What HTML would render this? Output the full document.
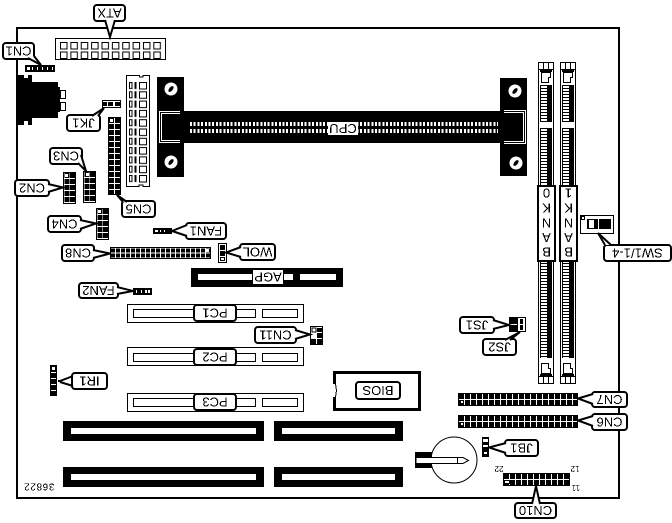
<!DOCTYPE html>
<html><head><meta charset="utf-8">
<style>
html,body{margin:0;padding:0;background:#fff;width:672px;height:523px;overflow:hidden}
svg{display:block}
text{font-family:"Liberation Sans",sans-serif;font-size:13px;text-anchor:middle;fill:#000}
.l{fill:#fff;stroke:#000;stroke-width:2}
.o{fill:#fff;stroke:#000;stroke-width:1}
.p{fill:#fff;stroke:#000;stroke-width:2;stroke-linejoin:miter}
.k{stroke:#000;fill:none}
.w{stroke:#fff;fill:none}
</style></head><body>
<svg width="672" height="523" viewBox="0 0 672 523" xmlns="http://www.w3.org/2000/svg">
<defs>
<pattern id="atx" patternUnits="userSpaceOnUse" x="60" y="42" width="10.37" height="9.5"><rect x=".5" y=".5" width="6.5" height="6.5" fill="#fff" stroke="#000"/></pattern>
<pattern id="sq" patternUnits="userSpaceOnUse" x="139" y="82" width="9" height="9.3"><rect x=".5" y=".5" width="7" height="6.5" fill="#fff" stroke="#000"/></pattern>
<pattern id="dt" patternUnits="userSpaceOnUse" x="129" y="82" width="9" height="9.3"><rect x=".5" y=".5" width="2.5" height="6" fill="#fff" stroke="#000"/><rect x="5.5" y="0" width="2" height="7" fill="#000"/></pattern>
<filter id="bw" x="0" y="0" width="100%" height="100%" color-interpolation-filters="sRGB"><feComponentTransfer><feFuncA type="discrete" tableValues="0 1"/></feComponentTransfer></filter>
</defs>

<!-- board outline -->
<path d="M17 28H619V498H17Z" class="k" stroke-width="2" shape-rendering="crispEdges"/>

<g shape-rendering="crispEdges">
<!-- ATX -->
<rect x="55.5" y="38.5" width="110" height="21" class="o"/>
<rect x="60" y="42" width="103" height="17" fill="url(#atx)"/>

<!-- CN1 header -->
<rect x="25" y="65" width="30" height="7" fill="#000"/>
<rect x="27" y="67" width="3" height="3" fill="#fff"/>
<line x1="32" y1="68.5" x2="54" y2="68.5" stroke="#fff" stroke-width="3" stroke-dasharray="1 4"/>

<!-- rear ports -->
<path d="M17 75H24V78H28V75H32V82H58V87H60V112H58V118H32V125H28V121H24V125H17Z" fill="#000"/>
<rect x="60.5" y="90.5" width="5" height="8" class="o"/>
<rect x="60.5" y="102.5" width="5" height="8" class="o"/>

<!-- JK1 -->
<rect x="102.5" y="100.5" width="18" height="7" class="o"/>
<rect x="108" y="102" width="5" height="4" fill="#000"/><rect x="115" y="102" width="5" height="4" fill="#000"/>
<rect x="103" y="102" width="4" height="4" fill="#000"/>

<!-- CN5 -->
<rect x="108.5" y="117.5" width="12" height="77" class="o"/>
<line x1="111.5" y1="118" x2="111.5" y2="194" stroke="#000" stroke-width="5" stroke-dasharray="5 1"/>
<line x1="117.5" y1="118" x2="117.5" y2="194" stroke="#000" stroke-width="5" stroke-dasharray="5 1"/>
<rect x="110" y="119" width="3" height="3" fill="#fff"/>

<!-- long socket -->
<path d="M126.500 75.500H139.500V77H143V75.500H149.500V186.500H143V185H139V186.500H126.500Z" class="o"/>
<rect x="129" y="82" width="9" height="102" fill="url(#dt)"/>
<rect x="139" y="82" width="8" height="102" fill="url(#sq)"/>

<!-- CN3 / CN2 / CN4 -->
<rect x="83.500" y="171.500" width="12" height="31" class="o"/>
<line x1="87" y1="172" x2="87" y2="202" stroke="#000" stroke-width="5" stroke-dasharray="5 1"/>
<line x1="92.500" y1="172" x2="92.500" y2="202" stroke="#000" stroke-width="5" stroke-dasharray="5 1"/>
<rect x="86" y="173" width="3" height="3" fill="#fff"/>
<rect x="63.500" y="172.500" width="12" height="31" class="o"/>
<line x1="67" y1="173" x2="67" y2="203" stroke="#000" stroke-width="5" stroke-dasharray="5 1"/>
<line x1="72.500" y1="173" x2="72.500" y2="203" stroke="#000" stroke-width="5" stroke-dasharray="5 1"/>
<rect x="65" y="174" width="3" height="3" fill="#fff"/>
<rect x="96.500" y="208.500" width="12" height="31" class="o"/>
<line x1="100" y1="209" x2="100" y2="239" stroke="#000" stroke-width="5" stroke-dasharray="5 1"/>
<line x1="105.500" y1="209" x2="105.500" y2="239" stroke="#000" stroke-width="5" stroke-dasharray="5 1"/>
<rect x="98" y="210" width="3" height="3" fill="#fff"/>

<!-- CN8 -->
<rect x="110.500" y="247.500" width="100" height="11" class="o"/>
<line x1="111" y1="250.500" x2="210" y2="250.500" stroke="#000" stroke-width="4" stroke-dasharray="4 1"/>
<line x1="111" y1="255.500" x2="210" y2="255.500" stroke="#000" stroke-width="4" stroke-dasharray="4 1"/>
<rect x="206" y="249" width="3" height="3" fill="#fff"/>

<!-- FAN1 -->
<rect x="153" y="228" width="19" height="6" fill="#000"/>
<rect x="155" y="230" width="3" height="2" fill="#fff"/>
<rect x="160" y="230" width="1" height="2" fill="#fff"/><rect x="164" y="230" width="1" height="2" fill="#fff"/>

<!-- WOL -->
<rect x="218.500" y="243.500" width="8" height="19" class="o"/>
<rect x="220" y="245" width="5" height="5" fill="#000"/>
<rect x="220" y="251" width="5" height="5" fill="#000"/>
<rect x="220.500" y="257.500" width="4" height="3" class="o"/>

<!-- AGP -->
<rect x="191" y="268" width="152" height="19" fill="#000"/>
<rect x="198" y="274" width="54" height="6" fill="#fff"/>
<rect x="253" y="270" width="30" height="14" fill="#fff"/>
<rect x="284" y="274" width="9" height="6" fill="#fff"/>
<rect x="300" y="274" width="36" height="6" fill="#fff"/>

<!-- FAN2 -->
<rect x="133" y="288" width="19" height="7" fill="#000"/>
<rect x="145" y="290" width="2" height="3" fill="#fff"/><rect x="148" y="290" width="2" height="3" fill="#fff"/>
<rect x="136" y="290" width="1" height="3" fill="#fff"/><rect x="141" y="290" width="1" height="3" fill="#fff"/>

<!-- PCI slots -->
<rect x="127.500" y="304.500" width="176" height="18" class="o"/>
<rect x="133.500" y="309.500" width="63" height="8" class="o"/>
<rect x="236.500" y="309.500" width="19" height="8" class="o"/>
<rect x="262.500" y="309.500" width="35" height="8" class="o"/>
<rect x="127.500" y="347.500" width="176" height="18" class="o"/>
<rect x="133.500" y="353.500" width="63" height="8" class="o"/>
<rect x="236.500" y="353.500" width="19" height="8" class="o"/>
<rect x="262.500" y="353.500" width="35" height="8" class="o"/>
<rect x="127.500" y="393.500" width="176" height="18" class="o"/>
<rect x="133.500" y="398.500" width="63" height="8" class="o"/>
<rect x="236.500" y="398.500" width="19" height="8" class="o"/>
<rect x="262.500" y="398.500" width="35" height="8" class="o"/>

<!-- CN11 -->
<rect x="310.500" y="326.500" width="12" height="18" class="o"/>
<rect x="312" y="328" width="4" height="4" fill="#fff" stroke="#000"/>
<rect x="317" y="328" width="5" height="4" fill="#000"/>
<rect x="317" y="333" width="5" height="5" fill="#000"/>
<rect x="311" y="339" width="5" height="5" fill="#000"/>
<rect x="317" y="339" width="5" height="5" fill="#000"/>

<!-- JS1/JS2 -->
<rect x="509" y="317" width="8" height="15" fill="#000"/>
<rect x="509" y="324" width="8" height="1" fill="#fff"/>
<rect x="517.500" y="317.500" width="8" height="14" class="o"/>
<rect x="520" y="319" width="3" height="5" fill="#000"/>
<rect x="520" y="325" width="3" height="5" fill="#000"/>

<!-- IR1 -->
<rect x="50" y="365" width="7" height="31" fill="#000"/>
<rect x="51.500" y="366.500" width="4" height="4" class="o"/>
<line x1="53.500" y1="372" x2="53.500" y2="396" stroke="#fff" stroke-width="5" stroke-dasharray="1 5"/>

<!-- ISA -->
<rect x="63" y="421" width="201" height="20" fill="#000"/><rect x="71" y="428" width="185" height="6" fill="#fff"/>
<rect x="274" y="421" width="129" height="20" fill="#000"/><rect x="282" y="428" width="113" height="6" fill="#fff"/>
<rect x="63" y="467" width="201" height="20" fill="#000"/><rect x="71" y="474" width="185" height="6" fill="#fff"/>
<rect x="274" y="467" width="129" height="20" fill="#000"/><rect x="282" y="474" width="113" height="6" fill="#fff"/>

<!-- BIOS -->
<rect x="334.500" y="372.500" width="85" height="37" fill="#fff" stroke="#000" stroke-width="3"/>
<rect x="333" y="384" width="3" height="13" fill="#fff"/>
<path d="M335.500 384L336.500 390.500L335.500 397" class="k"/>

<!-- CN7 CN6 -->
<rect x="458.500" y="393.500" width="119" height="12" class="o"/>
<line x1="459" y1="396.500" x2="577" y2="396.500" stroke="#000" stroke-width="5" stroke-dasharray="5 1"/>
<line x1="459" y1="402.500" x2="577" y2="402.500" stroke="#000" stroke-width="5" stroke-dasharray="5 1"/>
<rect x="460.500" y="400.500" width="3" height="3" fill="#fff" stroke="#000"/>
<rect x="458.500" y="415.500" width="119" height="12" class="o"/>
<line x1="459" y1="418.500" x2="577" y2="418.500" stroke="#000" stroke-width="5" stroke-dasharray="5 1"/>
<line x1="459" y1="424.500" x2="577" y2="424.500" stroke="#000" stroke-width="5" stroke-dasharray="5 1"/>
<rect x="460.500" y="422.500" width="3" height="3" fill="#fff" stroke="#000"/>

<!-- JB1 -->
<rect x="482" y="437" width="7" height="20" fill="#000"/>
<rect x="483" y="439" width="5" height="3" fill="#fff"/>
<rect x="483" y="445" width="5" height="2" fill="#fff"/>
<rect x="483.500" y="451.500" width="4" height="3" class="o"/>

<!-- CN10 -->
<rect x="503.500" y="473.500" width="66" height="12" class="o"/>
<line x1="504" y1="476.500" x2="569" y2="476.500" stroke="#000" stroke-width="5" stroke-dasharray="5 1"/>
<line x1="504" y1="482.500" x2="569" y2="482.500" stroke="#000" stroke-width="5" stroke-dasharray="5 1"/>
<rect x="504.500" y="480.500" width="5" height="3" fill="#fff" stroke="#000"/>

<!-- CPU slot -->
<rect x="157" y="77" width="27" height="100" fill="#000"/>
<rect x="500" y="78" width="27" height="98" fill="#000"/>
<rect x="184" y="111" width="316" height="32" fill="#000"/>
<path d="M180 111.500H159.500V142.500H180M180 113.500H161.500V140.500H180" class="w"/>
<path d="M504 110.500H525.500V143.500H504M504 112.500H523.500V141.500H504" class="w"/>
<line x1="190" y1="124" x2="498" y2="124" stroke="#fff" stroke-width="4" stroke-dasharray="2 1.700"/>
<line x1="190" y1="131" x2="498" y2="131" stroke="#fff" stroke-width="4" stroke-dasharray="2 1.700"/>
<rect x="328" y="122" width="30" height="13" fill="#fff"/>

<!-- DIMM sockets -->
<rect x="538.500" y="62.500" width="15" height="321" class="o"/>
<rect x="560.500" y="62.500" width="15" height="321" class="o"/>
<path d="M543.500 62.500V69.500M548.500 62.500V69.500M538.500 69.500H553.500M565.500 62.500V69.500M570.500 62.500V69.500M560.500 69.500H575.500" class="k"/>
<path d="M543.500 376.500V383.500M548.500 376.500V383.500M538.500 376.500H553.500M565.500 376.500V383.500M570.500 376.500V383.500M560.500 376.500H575.500" class="k"/>
<rect x="540" y="69" width="12" height="3" fill="#000"/><rect x="562" y="69" width="12" height="3" fill="#000"/>
<rect x="540" y="374" width="12" height="3" fill="#000"/><rect x="562" y="374" width="12" height="3" fill="#000"/>
<path d="M541.500 72.500H550.500V77.500H548.500V82.500H541.500Z" class="o"/>
<path d="M563.500 72.500H572.500V77.500H570.500V82.500H563.500Z" class="o"/>
<path d="M541.500 373.500H550.500V368.500H548.500V363.500H541.500Z" class="o"/>
<path d="M563.500 373.500H572.500V368.500H570.500V363.500H563.500Z" class="o"/>
<rect x="540" y="85" width="12" height="37" fill="#000"/>
<rect x="540" y="128" width="12" height="230" fill="#000"/>
<rect x="562" y="85" width="12" height="37" fill="#000"/>
<rect x="562" y="128" width="12" height="230" fill="#000"/>
<line x1="544" y1="86" x2="544" y2="122" stroke="#fff" stroke-width="6" stroke-dasharray="2 1"/>
<line x1="544" y1="129" x2="544" y2="358" stroke="#fff" stroke-width="6" stroke-dasharray="2 1"/>
<line x1="566" y1="86" x2="566" y2="122" stroke="#fff" stroke-width="6" stroke-dasharray="2 1"/>
<line x1="566" y1="129" x2="566" y2="358" stroke="#fff" stroke-width="6" stroke-dasharray="2 1"/>
<rect x="538" y="186" width="17" height="75" class="l"/>
<rect x="560" y="186" width="17" height="75" class="l"/>

<!-- SW -->
<rect x="580.500" y="215.500" width="33" height="18" class="o"/>
<rect x="581.500" y="216.500" width="3" height="3" class="o"/>
<rect x="587" y="219" width="24" height="10" fill="#000"/>
<rect x="589" y="220" width="5" height="8" fill="#fff"/>
<rect x="598" y="219" width="1" height="10" fill="#fff"/>
</g>

<!-- screw holes -->
<circle cx="171" cy="89" r="6.500" fill="#fff"/><ellipse cx="171" cy="89" rx="3.500" ry="1.800" transform="rotate(-50 171 89)" fill="#000"/>
<circle cx="171" cy="162" r="6.500" fill="#fff"/><ellipse cx="171" cy="162" rx="3.500" ry="1.800" transform="rotate(-50 171 162)" fill="#000"/>
<circle cx="515" cy="91" r="6.500" fill="#fff"/><ellipse cx="515" cy="91" rx="3.500" ry="1.800" transform="rotate(-50 515 91)" fill="#000"/>
<circle cx="516" cy="163" r="6.500" fill="#fff"/><ellipse cx="516" cy="163" rx="3.500" ry="1.800" transform="rotate(-50 516 163)" fill="#000"/>

<!-- battery -->
<circle cx="454" cy="460" r="23" fill="#fff" stroke="#000" stroke-width="1"/>
<rect x="415" y="452" width="17" height="16" fill="#000"/>
<path d="M416 457.500H463L468.500 460.500L463 463.500H416Z" fill="#fff" stroke="#000"/>
<path d="M457.500 457.500V463.500" class="k"/>

<!-- labels -->
<rect class="l" x="94" y="5" width="31" height="16" rx="3"/>
<rect class="l" x="3" y="43" width="31" height="16" rx="3"/>
<rect class="l" x="67" y="115" width="33" height="16" rx="3"/>
<rect class="l" x="50" y="148" width="32" height="16" rx="3"/>
<rect class="l" x="15" y="180" width="34" height="16" rx="3"/>
<rect class="l" x="48" y="216" width="33" height="16" rx="3"/>
<rect class="l" x="62" y="245" width="32" height="16" rx="3"/>
<rect class="l" x="122" y="201" width="33" height="16" rx="3"/>
<rect class="l" x="186" y="223" width="40" height="16" rx="3"/>
<rect class="l" x="240" y="244" width="35" height="16" rx="3"/>
<rect class="l" x="79" y="283" width="39" height="15" rx="3"/>
<rect class="l" x="194" y="305" width="42" height="16" rx="3"/>
<rect class="l" x="194" y="349" width="42" height="16" rx="3"/>
<rect class="l" x="194" y="394" width="42" height="16" rx="3"/>
<rect class="l" x="255" y="327" width="41" height="16" rx="3"/>
<rect class="l" x="356" y="382" width="44" height="17" rx="3"/>
<rect class="l" x="460" y="317" width="34" height="16" rx="3"/>
<rect class="l" x="483" y="339" width="33" height="16" rx="3"/>
<rect class="l" x="72" y="373" width="35" height="16" rx="3"/>
<rect class="l" x="592" y="392" width="35" height="15" rx="3"/>
<rect class="l" x="592" y="414" width="35" height="16" rx="3"/>
<rect class="l" x="505" y="440" width="33" height="16" rx="3"/>
<rect class="l" x="515" y="503" width="41" height="15" rx="3"/>
<rect class="l" x="604" y="245" width="67" height="16" rx="3"/>

<!-- pointers: open wedges drawn over the label border -->
<path class="p" d="M105 20L110 37L115 20"/>
<path class="p" d="M28 58L41 65L34 56"/>
<path class="p" d="M92 116L104 108L98 116"/>
<path class="p" d="M78 163L86 171L81 155"/>
<path class="p" d="M48 184L63 187.500L48 192"/>
<path class="p" d="M80 220L96 223.500L80 229"/>
<path class="p" d="M93 250L110 253.500L93 258"/>
<path class="p" d="M123 202L117 195L127 202"/>
<path class="p" d="M187 225L172 231L187 236"/>
<path class="p" d="M241 247L226 252.500L241 257"/>
<path class="p" d="M117 287L133 291L117 294"/>
<path class="p" d="M295 330L310 334.500L295 339"/>
<path class="p" d="M493 320L509 325L493 329"/>
<path class="p" d="M505 340L520 332L510 340"/>
<path class="p" d="M58 381H60L73 376M60 382L73 386"/>
<path class="p" d="M593 394L578 398.500L593 404"/>
<path class="p" d="M593 416L578 420.500L593 426"/>
<path class="p" d="M506 443L489 447.500L506 453"/>
<path class="p" d="M532 504L536 486L540 504"/>
<path class="p" d="M605 245L598 233L611 245"/>

<!-- text -->
<g filter="url(#bw)">
<text transform="translate(109.500 13) rotate(180)" y="4.500">ATX</text>
<text transform="translate(18.500 51) rotate(180)" y="4.500">CN1</text>
<text transform="translate(83.500 123) rotate(180)" y="4.500">JK1</text>
<text transform="translate(66 156) rotate(180)" y="4.500">CN3</text>
<text transform="translate(32 188) rotate(180)" y="4.500">CN2</text>
<text transform="translate(64.500 224) rotate(180)" y="4.500">CN4</text>
<text transform="translate(78 253) rotate(180)" y="4.500">CN8</text>
<text transform="translate(138.500 209) rotate(180)" y="4.500">CN5</text>
<text transform="translate(206 231) rotate(180)" y="4.500">FAN1</text>
<text transform="translate(257.500 252) rotate(180)" y="4.500">WOL</text>
<text transform="translate(98.500 290.500) rotate(180)" y="4.500">FAN2</text>
<text transform="translate(268 277) rotate(180)" y="4.500">AGP</text>
<text transform="translate(215 313) rotate(180)" y="4.500">PC1</text>
<text transform="translate(215 357) rotate(180)" y="4.500">PC2</text>
<text transform="translate(215 402) rotate(180)" y="4.500">PC3</text>
<text transform="translate(275.500 335) rotate(180)" y="4.500">CN11</text>
<text transform="translate(378 390.500) rotate(180)" y="4.500">BIOS</text>
<text transform="translate(343 128.500) rotate(180)" y="4.500">CPU</text>
<text transform="translate(477 325) rotate(180)" y="4.500">JS1</text>
<text transform="translate(499.500 347) rotate(180)" y="4.500">JS2</text>
<text transform="translate(89.500 381) rotate(180)" y="4.500">IR1</text>
<text transform="translate(609.500 399.500) rotate(180)" y="4.500">CN7</text>
<text transform="translate(609.500 422) rotate(180)" y="4.500">CN6</text>
<text transform="translate(521.500 448) rotate(180)" y="4.500">JB1</text>
<text transform="translate(535.500 510.500) rotate(180)" y="4.500">CN10</text>
<text transform="translate(637.500 253) rotate(180)" y="4.500">SW1/1-4</text>
<text transform="translate(546.500 193) rotate(180)" y="4.500">0</text>
<text transform="translate(546.500 208) rotate(180)" y="4.500">K</text>
<text transform="translate(546.500 223) rotate(180)" y="4.500">N</text>
<text transform="translate(546.500 237.500) rotate(180)" y="4.500">A</text>
<text transform="translate(546.500 252) rotate(180)" y="4.500">B</text>
<text transform="translate(568.500 193) rotate(180)" y="4.500">1</text>
<text transform="translate(568.500 208) rotate(180)" y="4.500">K</text>
<text transform="translate(568.500 223) rotate(180)" y="4.500">N</text>
<text transform="translate(568.500 237.500) rotate(180)" y="4.500">A</text>
<text transform="translate(568.500 252) rotate(180)" y="4.500">B</text>
<text transform="translate(39 487) rotate(180)" y="3.500" style="font-size:10px;letter-spacing:.6px">36822</text>
<text transform="translate(499 469) rotate(180)" y="3" style="font-size:8px">22</text>
<text transform="translate(575 469) rotate(180)" y="3" style="font-size:8px">12</text>
<text transform="translate(576 488) rotate(180)" y="3" style="font-size:8px">11</text>
</g>
</svg>
</body></html>
